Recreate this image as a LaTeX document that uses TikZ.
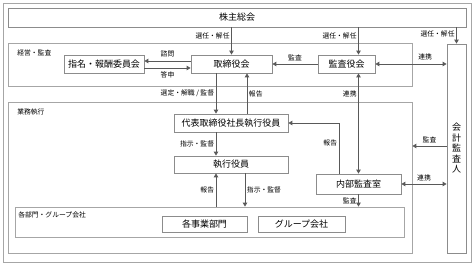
\documentclass[tikz,border=0pt]{standalone}
\usepackage{fontspec}
\setmainfont{Noto Sans CJK JP}
\usetikzlibrary{arrows.meta}
\tikzset{
  box/.style={draw=black!45, line width=0.8pt, fill=white, inner sep=0pt, font=\fontsize{9}{10}\selectfont},
  frame/.style={draw=black!35, line width=0.8pt, inner sep=0pt},
  lbl/.style={font=\fontsize{6.8}{7.5}\selectfont, inner sep=1.5pt},
  arr/.style={draw=black!65, line width=0.9pt, -{Triangle[length=4pt,width=4.5pt]}},
  darr/.style={arr, {Triangle[length=4pt,width=4.5pt]}-{Triangle[length=4pt,width=4.5pt]}},
}
\begin{document}
\begin{tikzpicture}[x=1pt,y=-1pt]
        \useasboundingbox (0,0) rectangle (475,267);
        % frames
        \node[frame, minimum width=468pt, minimum height=259pt] (outer) at (237,132.5) {};
        \node[frame, minimum width=404pt, minimum height=43pt] (keiei) at (210,64.5) {};
        \node[frame, minimum width=404pt, minimum height=151pt] (gyomu) at (210,177.5) {};
        \node[frame, minimum width=389pt, minimum height=30pt] (bumon) at (209.5,222) {};
        \node[lbl, anchor=north west] at ([xshift=8pt,yshift=-5pt]keiei.north west) {経営・監査};
        \node[lbl, anchor=north west] at ([xshift=8pt,yshift=-5pt]gyomu.north west) {業務執行};
        \node[lbl, anchor=north west] at ([xshift=2pt,yshift=-3pt]bumon.north west) {各部門・グループ会社};
        % boxes
        \node[box, minimum width=458pt, minimum height=19pt] (kabu) at (237,17.5) {株主総会};
        \node[box, minimum width=19pt, minimum height=209pt, align=center, font=\fontsize{9}{10.5}\selectfont] (kaikei) at (456.5,148.5) {会\\計\\監\\査\\人};
        \node[box, minimum width=81pt, minimum height=18pt] (tori) at (231.5,64) {取締役会};
        \node[box, minimum width=80pt, minimum height=18pt] (shimei) at (104,64) {指名・報酬委員会};
        \node[box, minimum width=57pt, minimum height=18pt] (kansa) at (346.5,64) {監査役会};
        \node[box, minimum width=114pt, minimum height=18pt] (daihyo) at (231,123) {代表取締役社長執行役員};
        \node[box, minimum width=114pt, minimum height=17pt] (shikko) at (231,164.5) {執行役員};
        \node[box, minimum width=85pt, minimum height=20pt] (naibu) at (358.5,184) {内部監査室};
        \node[box, minimum width=85pt, minimum height=16pt] (jigyo) at (204.5,224) {各事業部門};
        \node[box, minimum width=87pt, minimum height=16pt] (group) at (301.5,224) {グループ会社};
        % line positions
        \coordinate (xa) at (216,0);
        \coordinate (xb) at (247,0);
        \coordinate (xd) at (339,0);
        \coordinate (xe) at (245,0);
        \coordinate (ya) at (0,146);
        % connectors
        \draw[arr] (kabu.south -| tori.north) -- node[lbl,left,pos=0.3]{選任・解任} (tori.north);
        \draw[arr] (kabu.south -| naibu.north) -- node[lbl,left,pos=0.3]{選任・解任} (kansa.north -| naibu.north);
        \draw[arr] (kabu.south -| kaikei.north) -- node[lbl,left,pos=0.4]{選任・解任} (kaikei.north);
        \draw[arr] (kansa.west) -- node[lbl,above,yshift=1pt]{監査} (tori.east);
        \draw[darr] (kansa.east) -- node[lbl,above,pos=0.7,yshift=2pt]{連携} (kansa.east -| kaikei.west);
        \draw[arr] ([yshift=3pt]tori.west) -- node[lbl,above,yshift=2pt]{諮問} ([yshift=3pt]shimei.east);
        \draw[arr] ([yshift=-4pt]shimei.east) -- node[lbl,below,yshift=-2pt]{答申} ([yshift=-4pt]tori.west);
        \draw[arr] (tori.south -| xa) -- node[lbl,left]{選定・解職 / 監督} (daihyo.north -| xa);
        \draw[arr] (daihyo.north -| xb) -- node[lbl,right,pos=0.49]{報告} (tori.south -| xb);
        \draw[darr] (kansa.south -| naibu.north) -- node[lbl,left,pos=0.2]{連携} (naibu.north);
        \draw[arr] (daihyo.south -| xa) -- node[lbl,left]{指示・監督} (shikko.north -| xa);
        \draw[arr] (naibu.north -| xd) |- node[lbl,left,pos=0.3]{報告} (daihyo.east);
        \draw[arr] (kaikei.west |- ya) -- node[lbl,above,yshift=1pt]{監査} (gyomu.east |- ya);
        \draw[darr] (naibu.east) -- node[lbl,above,yshift=1pt]{連携} (naibu.east -| kaikei.west);
        \draw[arr] (naibu.south) -- node[lbl,left]{監査} (naibu.south |- bumon.north);
        \draw[arr] (bumon.north -| xa) -- node[lbl,left]{報告} (shikko.south -| xa);
        \draw[arr] (shikko.south -| xe) -- node[lbl,right]{指示・監督} (bumon.north -| xe);
\end{tikzpicture}
\end{document}
